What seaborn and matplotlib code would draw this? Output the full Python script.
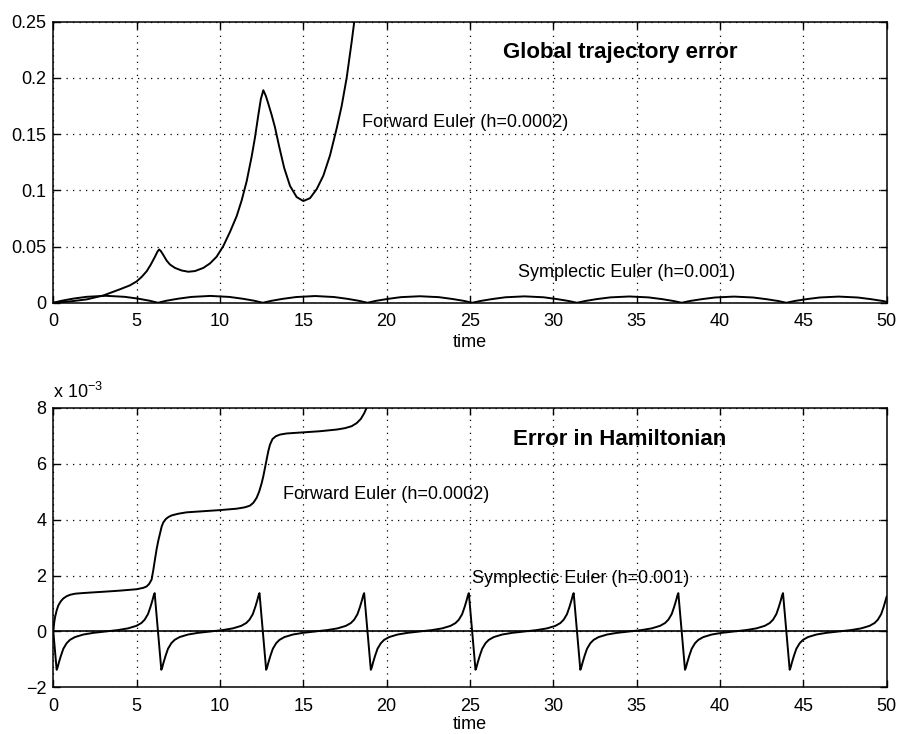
import matplotlib
matplotlib.use("Agg")
import matplotlib.pyplot as plt
import seaborn as sns

# ---------------- data ----------------
# Top panel: global trajectory error
fe_traj_t = [0, 1, 2, 3, 4, 4.6, 5.0, 5.3, 5.6, 5.85, 6.1, 6.25, 6.35, 6.45, 6.6, 6.8,
             7.0, 7.3, 7.7, 8.1, 8.5, 9.0, 9.4, 9.8, 10.2, 10.6, 11.0, 11.3, 11.6,
             11.9, 12.1, 12.3, 12.45, 12.6, 12.75, 12.9, 13.1, 13.3, 13.55, 13.85,
             14.2, 14.6, 15.0, 15.4, 15.8, 16.2, 16.6, 17.0, 17.3, 17.6, 17.9, 18.1, 18.3]
fe_traj_v = [0, 0.0012, 0.003, 0.0065, 0.012, 0.0155, 0.019, 0.023, 0.028, 0.034,
             0.041, 0.0455, 0.0474, 0.046, 0.0425, 0.0375, 0.034, 0.031, 0.0287,
             0.0276, 0.0282, 0.031, 0.035, 0.041, 0.0505, 0.063, 0.077, 0.091, 0.108,
             0.130, 0.147, 0.167, 0.181, 0.189, 0.184, 0.177, 0.167, 0.156, 0.139,
             0.120, 0.104, 0.094, 0.0905, 0.093, 0.101, 0.113, 0.131, 0.155, 0.175,
             0.200, 0.232, 0.255, 0.280]

se_traj_t = [0, 0.5, 1.2, 2.0, 3.14, 4.28, 5.08, 5.78,
             6.28, 6.78, 7.48, 8.28, 9.42, 10.56, 11.36, 12.06,
             12.57, 13.07, 13.77, 14.57, 15.71, 16.85, 17.65, 18.35,
             18.85, 19.35, 20.05, 20.85, 21.99, 23.13, 23.93, 24.63,
             25.13, 25.63, 26.33, 27.13, 28.27, 29.41, 30.21, 30.91,
             31.42, 31.92, 32.62, 33.42, 34.56, 35.70, 36.50, 37.20,
             37.70, 38.20, 38.90, 39.70, 40.84, 41.98, 42.78, 43.48,
             43.98, 44.48, 45.18, 45.98, 47.12, 48.26, 49.06, 49.76, 50.0]
se_traj_v = [0, 0.0018, 0.0037, 0.0053, 0.0062, 0.0053, 0.0037, 0.0018,
             0, 0.0018, 0.0036, 0.0052, 0.0061, 0.0052, 0.0036, 0.0018,
             0, 0.0017, 0.0035, 0.0051, 0.0060, 0.0051, 0.0035, 0.0017,
             0, 0.0017, 0.0034, 0.0050, 0.0058, 0.0050, 0.0034, 0.0017,
             0, 0.0016, 0.0033, 0.0049, 0.0057, 0.0049, 0.0033, 0.0016,
             0, 0.0016, 0.0033, 0.0048, 0.0056, 0.0048, 0.0033, 0.0016,
             0, 0.0016, 0.0032, 0.0047, 0.0055, 0.0047, 0.0032, 0.0016,
             0, 0.0016, 0.0032, 0.0047, 0.0055, 0.0047, 0.0032, 0.0016, 0.0008]

# Bottom panel: error in Hamiltonian (values in units of 1e-3)
fe_ham_t = [0, 0.05, 0.1, 0.2, 0.3, 0.45, 0.6, 0.8, 1.0, 1.3, 1.7, 2.2, 3, 4, 5,
            5.4, 5.6, 5.75, 5.9, 6.0, 6.1, 6.2, 6.3, 6.4, 6.5, 6.6, 6.75, 6.9, 7.1,
            7.5, 8, 9, 10, 11, 11.5, 11.8, 12.0, 12.2, 12.35, 12.5, 12.6, 12.7, 12.8,
            12.9, 13.0, 13.15, 13.35, 13.6, 14, 15, 16, 17, 17.5, 17.9, 18.2, 18.45,
            18.65, 18.8, 19.0]
fe_ham_v = [0, 0.3, 0.5, 0.75, 0.93, 1.08, 1.18, 1.26, 1.31, 1.35, 1.37, 1.39, 1.42,
            1.46, 1.51, 1.56, 1.61, 1.70, 1.86, 2.2, 2.58, 2.95, 3.25, 3.5, 3.75, 3.9,
            4.02, 4.09, 4.15, 4.21, 4.26, 4.3, 4.34, 4.39, 4.44, 4.5, 4.6, 4.78, 5.0,
            5.3, 5.55, 5.85, 6.15, 6.45, 6.68, 6.88, 6.98, 7.04, 7.08, 7.12, 7.16,
            7.22, 7.27, 7.34, 7.45, 7.6, 7.8, 8.0, 8.4]

se_ham_t = [0, 0.2, 0.25, 0.33, 0.45, 0.6, 0.8, 1.0, 1.3, 1.8, 2.4,
            3.14, 3.88, 4.48, 4.98, 5.28, 5.48, 5.68, 5.83, 5.95, 6.03, 6.08,
            6.48, 6.53, 6.61, 6.73, 6.88, 7.08, 7.28, 7.58, 8.08, 8.68,
            9.43, 10.17, 10.77, 11.27, 11.57, 11.77, 11.97, 12.12, 12.24, 12.32, 12.37,
            12.77, 12.82, 12.90, 13.02, 13.17, 13.37, 13.57, 13.87, 14.37, 14.97,
            15.71, 16.45, 17.05, 17.55, 17.85, 18.05, 18.25, 18.40, 18.52, 18.60, 18.65,
            19.05, 19.10, 19.18, 19.30, 19.45, 19.65, 19.85, 20.15, 20.65, 21.25,
            21.99, 22.73, 23.33, 23.83, 24.13, 24.33, 24.53, 24.68, 24.80, 24.88, 24.93,
            25.33, 25.38, 25.46, 25.58, 25.73, 25.93, 26.13, 26.43, 26.93, 27.53,
            28.28, 29.02, 29.62, 30.12, 30.42, 30.62, 30.82, 30.97, 31.09, 31.17, 31.22,
            31.62, 31.67, 31.75, 31.87, 32.02, 32.22, 32.42, 32.72, 33.22, 33.82,
            34.56, 35.30, 35.90, 36.40, 36.70, 36.90, 37.10, 37.25, 37.37, 37.45, 37.50,
            37.90, 37.95, 38.03, 38.15, 38.30, 38.50, 38.70, 39.00, 39.50, 40.10,
            40.84, 41.58, 42.18, 42.68, 42.98, 43.18, 43.38, 43.53, 43.65, 43.73, 43.78,
            44.18, 44.23, 44.31, 44.43, 44.58, 44.78, 44.98, 45.28, 45.78, 46.38,
            47.13, 47.87, 48.47, 48.97, 49.27, 49.47, 49.67, 49.82, 49.94, 50.0]
se_ham_v = [0, -1.37, -1.3, -1.12, -0.88, -0.62, -0.42, -0.3, -0.2, -0.11, -0.05,
            0, 0.05, 0.11, 0.2, 0.3, 0.42, 0.62, 0.88, 1.12, 1.3, 1.37,
            -1.37, -1.3, -1.12, -0.88, -0.62, -0.42, -0.3, -0.2, -0.11, -0.05,
            0, 0.05, 0.11, 0.2, 0.3, 0.42, 0.62, 0.88, 1.12, 1.3, 1.37,
            -1.37, -1.3, -1.12, -0.88, -0.62, -0.42, -0.3, -0.2, -0.11, -0.05,
            0, 0.05, 0.11, 0.2, 0.3, 0.42, 0.62, 0.88, 1.12, 1.3, 1.37,
            -1.37, -1.3, -1.12, -0.88, -0.62, -0.42, -0.3, -0.2, -0.11, -0.05,
            0, 0.05, 0.11, 0.2, 0.3, 0.42, 0.62, 0.88, 1.12, 1.3, 1.37,
            -1.37, -1.3, -1.12, -0.88, -0.62, -0.42, -0.3, -0.2, -0.11, -0.05,
            0, 0.05, 0.11, 0.2, 0.3, 0.42, 0.62, 0.88, 1.12, 1.3, 1.37,
            -1.37, -1.3, -1.12, -0.88, -0.62, -0.42, -0.3, -0.2, -0.11, -0.05,
            0, 0.05, 0.11, 0.2, 0.3, 0.42, 0.62, 0.88, 1.12, 1.3, 1.37,
            -1.37, -1.3, -1.12, -0.88, -0.62, -0.42, -0.3, -0.2, -0.11, -0.05,
            0, 0.05, 0.11, 0.2, 0.3, 0.42, 0.62, 0.88, 1.12, 1.3, 1.37,
            -1.37, -1.3, -1.12, -0.88, -0.62, -0.42, -0.3, -0.2, -0.11, -0.05,
            0, 0.05, 0.11, 0.2, 0.3, 0.42, 0.62, 0.88, 1.12, 1.25]

x_ticks = [0, 5, 10, 15, 20, 25, 30, 35, 40, 45, 50]
top_y_ticks = [0, 0.05, 0.1, 0.15, 0.2, 0.25]
top_y_labels = ["0", "0.05", "0.1", "0.15", "0.2", "0.25"]
bot_y_ticks = [-2, 0, 2, 4, 6, 8]
bot_y_labels = ["\u22122", "0", "2", "4", "6", "8"]

# ---------------- styling ----------------
sns.set_style("ticks")
plt.rcParams["font.family"] = ["Liberation Sans", "DejaVu Sans"]
plt.rcParams["text.color"] = "black"
plt.rcParams["axes.labelcolor"] = "black"
plt.rcParams["mathtext.fontset"] = "custom"
plt.rcParams["mathtext.rm"] = "Liberation Sans"
plt.rcParams["mathtext.it"] = "Liberation Sans:italic"
plt.rcParams["mathtext.bf"] = "Liberation Sans:bold"

fig = plt.figure(figsize=(8.99, 7.34), dpi=100)
fig.patch.set_facecolor("white")
ax1 = fig.add_axes([0.0593, 0.5875, 0.927, 0.3830])
ax2 = fig.add_axes([0.0593, 0.0635, 0.927, 0.3810])

LW = 1.4


def style_axes(ax, yticks, ylabels, ylim, labelpad):
    ax.set_xlim(0, 50)
    ax.set_ylim(*ylim)
    ax.set_xticks(x_ticks)
    ax.set_xticklabels([str(v) for v in x_ticks])
    ax.set_yticks(yticks)
    ax.set_yticklabels(ylabels)
    ax.grid(True, color="black", linestyle=(0, (1, 4.2)), linewidth=0.9)
    for s in ax.spines.values():
        s.set_visible(True)
        s.set_color("black")
        s.set_linewidth(1.1)
    ax.tick_params(direction="in", length=5, width=1, top=True, right=True,
                   colors="black", labelsize=13)
    ax.tick_params(axis="x", pad=7.5)
    ax.tick_params(axis="y", pad=5)
    ax.set_xlabel("time", fontsize=13, labelpad=labelpad, color="black")
    ax.set_ylabel("")
    ax.set_facecolor("white")


# top panel
sns.lineplot(x=fe_traj_t, y=fe_traj_v, ax=ax1, color="black", linewidth=LW,
             estimator=None, sort=False, legend=False)
sns.lineplot(x=se_traj_t, y=se_traj_v, ax=ax1, color="black", linewidth=LW,
             estimator=None, sort=False, legend=False)
style_axes(ax1, top_y_ticks, top_y_labels, (0, 0.25), 3)
ax1.text(27.0, 0.218, "Global trajectory error", fontsize=16, fontweight="bold",
         ha="left", va="baseline", color="black")
ax1.text(18.5, 0.1562, "Forward Euler (h=0.0002)", fontsize=13,
         ha="left", va="baseline", color="black")
ax1.text(27.9, 0.0227, "Symplectic Euler (h=0.001)", fontsize=13,
         ha="left", va="baseline", color="black")

# bottom panel
ax2.axhline(0, color="black", linewidth=1.2)
sns.lineplot(x=fe_ham_t, y=fe_ham_v, ax=ax2, color="black", linewidth=LW,
             estimator=None, sort=False, legend=False)
sns.lineplot(x=se_ham_t, y=se_ham_v, ax=ax2, color="black", linewidth=LW,
             estimator=None, sort=False, legend=False)
style_axes(ax2, bot_y_ticks, bot_y_labels, (-2, 8), 1)
ax2.text(27.6, 6.68, "Error in Hamiltonian", fontsize=16, fontweight="bold",
         ha="left", va="baseline", color="black")
ax2.text(13.8, 4.72, "Forward Euler (h=0.0002)", fontsize=13,
         ha="left", va="baseline", color="black")
ax2.text(25.1, 1.74, "Symplectic Euler (h=0.001)", fontsize=13,
         ha="left", va="baseline", color="black")
ax2.text(0.0, 1.036, "x 10$^{\\mathrm{\u22123}}$", transform=ax2.transAxes,
         fontsize=13, ha="left", va="baseline", color="black")

fig.savefig("out.png", dpi=100, facecolor="white")
